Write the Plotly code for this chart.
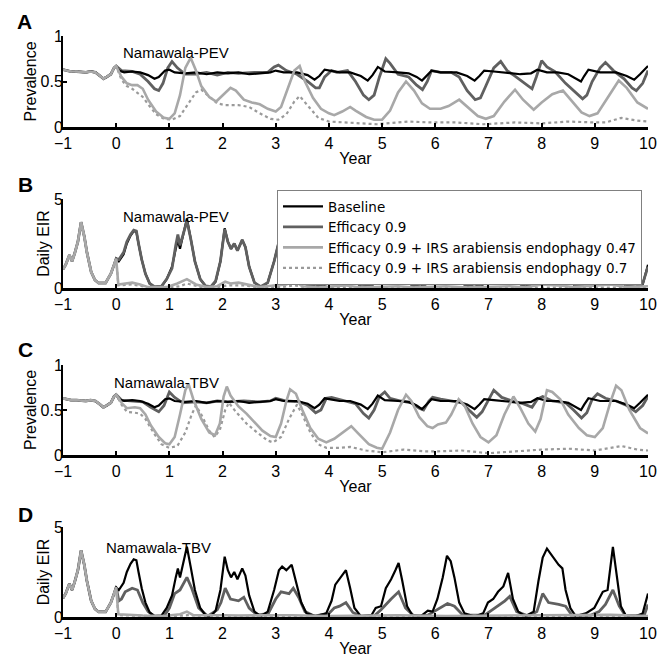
import plotly.graph_objects as go

# Page body has an 8px margin, so the figure is 8px smaller and positions are shifted
OFF = 8
W, H = 672 - OFF, 658 - OFF

# ---------------- data (year, value) ----------------
# Pre-intervention period (-1..0), identical for all scenarios
pre_prev = [(-1.0, 0.63), (-0.92, 0.62), (-0.85, 0.61), (-0.75, 0.61), (-0.65, 0.60), (-0.57, 0.60),
            (-0.48, 0.61), (-0.39, 0.60), (-0.30, 0.56), (-0.24, 0.53), (-0.18, 0.55), (-0.10, 0.58),
            (-0.04, 0.65), (0.0, 0.67)]
pre_eir = [(-1.0, 1.05), (-0.95, 1.3), (-0.88, 1.85), (-0.83, 1.5), (-0.78, 1.95), (-0.72, 2.6),
           (-0.66, 3.7), (-0.60, 2.9), (-0.55, 2.0), (-0.47, 0.9), (-0.40, 0.45), (-0.33, 0.28),
           (-0.20, 0.28), (-0.10, 0.8), (-0.04, 1.3), (0.0, 1.65)]

# Baseline prevalence (A and C)
base_prev = [(0.05, 0.62), (0.15, 0.60), (0.3, 0.61), (0.45, 0.60), (0.6, 0.57), (0.72, 0.53), (0.8, 0.55),
             (0.92, 0.62), (1.0, 0.63), (1.1, 0.60), (1.3, 0.59), (1.5, 0.60), (1.7, 0.58), (1.9, 0.60),
             (2.1, 0.59), (2.3, 0.60), (2.5, 0.58), (2.7, 0.59), (2.9, 0.60), (3.0, 0.62), (3.15, 0.60),
             (3.4, 0.60), (3.6, 0.57), (3.73, 0.52), (3.82, 0.56), (3.92, 0.63), (4.0, 0.62), (4.2, 0.60),
             (4.4, 0.60), (4.6, 0.56), (4.73, 0.51), (4.82, 0.57), (4.92, 0.66), (5.05, 0.61), (5.3, 0.60),
             (5.5, 0.59), (5.65, 0.55), (5.75, 0.51), (5.85, 0.57), (5.93, 0.62), (6.1, 0.60), (6.4, 0.60),
             (6.6, 0.56), (6.74, 0.51), (6.83, 0.56), (6.92, 0.62), (7.1, 0.61), (7.3, 0.60), (7.6, 0.58),
             (7.8, 0.59), (7.92, 0.63), (8.1, 0.60), (8.3, 0.60), (8.5, 0.58), (8.65, 0.53), (8.74, 0.50),
             (8.8, 0.56), (8.88, 0.63), (9.1, 0.60), (9.4, 0.60), (9.6, 0.56), (9.74, 0.52), (9.85, 0.58),
             (10.0, 0.67)]

# Panel A: PEV
pev_prev = [(0.1, 0.62), (0.3, 0.61), (0.45, 0.58), (0.6, 0.50), (0.72, 0.42), (0.8, 0.40), (0.88, 0.48),
            (0.97, 0.65), (1.05, 0.72), (1.15, 0.65), (1.3, 0.58), (1.5, 0.58), (1.7, 0.60), (1.9, 0.57),
            (2.1, 0.60), (2.3, 0.59), (2.6, 0.60), (2.85, 0.60), (2.97, 0.66), (3.05, 0.68), (3.2, 0.62),
            (3.4, 0.58), (3.6, 0.50), (3.75, 0.43), (3.82, 0.43), (3.92, 0.55), (4.05, 0.62), (4.15, 0.60),
            (4.35, 0.62), (4.5, 0.50), (4.65, 0.35), (4.75, 0.30), (4.85, 0.35), (4.95, 0.55), (5.07, 0.75),
            (5.15, 0.70), (5.3, 0.58), (5.5, 0.55), (5.65, 0.46), (5.76, 0.41), (5.85, 0.50), (5.93, 0.62),
            (6.1, 0.60), (6.3, 0.60), (6.45, 0.55), (6.6, 0.40), (6.75, 0.30), (6.85, 0.32), (6.95, 0.45),
            (7.1, 0.65), (7.23, 0.72), (7.35, 0.62), (7.5, 0.56), (7.7, 0.47), (7.82, 0.42), (7.9, 0.55),
            (8.0, 0.73), (8.1, 0.66), (8.25, 0.61), (8.45, 0.48), (8.6, 0.40), (8.77, 0.31), (8.85, 0.35),
            (8.95, 0.50), (9.1, 0.65), (9.2, 0.71), (9.35, 0.62), (9.55, 0.53), (9.7, 0.43), (9.78, 0.40),
            (9.9, 0.48), (10.0, 0.62)]
pev_irs47_prev = [(0.1, 0.55), (0.2, 0.48), (0.3, 0.46), (0.4, 0.46), (0.5, 0.42), (0.6, 0.30), (0.75, 0.17),
                  (0.9, 0.10), (1.0, 0.09), (1.1, 0.15), (1.2, 0.35), (1.3, 0.65), (1.4, 0.76), (1.5, 0.62),
                  (1.6, 0.45), (1.75, 0.33), (1.88, 0.28), (2.0, 0.35), (2.15, 0.43), (2.25, 0.40), (2.4, 0.30),
                  (2.55, 0.27), (2.7, 0.25), (2.85, 0.20), (3.0, 0.17), (3.1, 0.22), (3.25, 0.45), (3.35, 0.62),
                  (3.45, 0.67), (3.55, 0.50), (3.7, 0.32), (3.85, 0.20), (4.0, 0.15), (4.1, 0.13), (4.25, 0.17),
                  (4.4, 0.22), (4.5, 0.18), (4.7, 0.11), (4.85, 0.08), (5.0, 0.08), (5.15, 0.18), (5.3, 0.38),
                  (5.45, 0.50), (5.6, 0.40), (5.75, 0.26), (5.9, 0.20), (6.1, 0.20), (6.25, 0.23), (6.45, 0.30),
                  (6.6, 0.22), (6.8, 0.12), (6.95, 0.09), (7.1, 0.12), (7.3, 0.28), (7.5, 0.41), (7.65, 0.30),
                  (7.85, 0.19), (8.0, 0.27), (8.2, 0.36), (8.4, 0.40), (8.55, 0.30), (8.75, 0.16), (8.9, 0.12),
                  (9.05, 0.15), (9.25, 0.33), (9.45, 0.51), (9.6, 0.43), (9.8, 0.27), (10.0, 0.20)]
pev_irs70_prev = [(0.1, 0.52), (0.2, 0.45), (0.3, 0.42), (0.4, 0.38), (0.5, 0.33), (0.6, 0.25), (0.75, 0.14),
                  (0.9, 0.09), (1.05, 0.08), (1.2, 0.12), (1.35, 0.25), (1.5, 0.38), (1.6, 0.41), (1.75, 0.33),
                  (1.9, 0.26), (2.05, 0.24), (2.3, 0.24), (2.5, 0.22), (2.7, 0.15), (2.9, 0.09), (3.05, 0.08),
                  (3.2, 0.14), (3.35, 0.28), (3.45, 0.34), (3.6, 0.24), (3.8, 0.10), (4.0, 0.06), (4.4, 0.05),
                  (4.9, 0.03), (5.3, 0.05), (5.5, 0.06), (5.9, 0.05), (6.4, 0.05), (6.9, 0.03), (7.5, 0.05),
                  (8.0, 0.04), (8.5, 0.06), (9.0, 0.05), (9.2, 0.05), (9.5, 0.10), (9.8, 0.07), (10.0, 0.06)]

# Baseline daily EIR (B and D)
base_eir = [(0.05, 1.5), (0.1, 1.7), (0.14, 1.9), (0.2, 2.5), (0.27, 2.95), (0.33, 3.2), (0.38, 3.15),
            (0.42, 2.5), (0.48, 1.6), (0.55, 0.8), (0.63, 0.25), (0.72, 0.05), (0.85, 0.08), (0.95, 0.5),
            (1.05, 1.2), (1.12, 2.2), (1.16, 2.7), (1.2, 2.2), (1.27, 3.1), (1.33, 3.9), (1.4, 2.8),
            (1.48, 1.5), (1.58, 0.5), (1.68, 0.1), (1.78, 0.05), (1.87, 0.35), (1.96, 1.5), (2.04, 3.35),
            (2.1, 2.6), (2.16, 2.2), (2.22, 2.5), (2.28, 2.1), (2.37, 2.7), (2.43, 2.3), (2.5, 1.2),
            (2.6, 0.3), (2.72, 0.05), (2.85, 0.3), (2.97, 1.5), (3.06, 2.6), (3.12, 2.8), (3.2, 2.6),
            (3.3, 2.9), (3.38, 2.0), (3.48, 0.8), (3.58, 0.2), (3.75, 0.05), (3.95, 0.2), (4.05, 0.9),
            (4.12, 1.8), (4.22, 2.2), (4.32, 2.6), (4.4, 1.6), (4.48, 0.5), (4.6, 0.05), (4.8, 0.1),
            (4.88, 0.5), (4.98, 0.6), (5.07, 1.6), (5.17, 2.1), (5.25, 2.6), (5.31, 3.0), (5.38, 2.0),
            (5.47, 0.6), (5.57, 0.1), (5.73, 0.05), (5.86, 0.35), (5.95, 0.3), (6.04, 1.0), (6.14, 2.2),
            (6.22, 3.4), (6.29, 3.1), (6.36, 2.2), (6.45, 0.8), (6.55, 0.2), (6.74, 0.02), (6.9, 0.2),
            (6.99, 0.8), (7.09, 1.0), (7.18, 1.4), (7.28, 1.7), (7.37, 2.45), (7.46, 1.0), (7.56, 0.3),
            (7.69, 0.05), (7.85, 0.3), (7.94, 2.0), (8.02, 3.3), (8.1, 3.8), (8.2, 3.4), (8.32, 2.9),
            (8.39, 2.7), (8.45, 1.5), (8.54, 0.5), (8.64, 0.05), (8.83, 0.2), (8.99, 0.5), (9.15, 1.4),
            (9.24, 1.5), (9.34, 3.9), (9.4, 2.5), (9.49, 0.6), (9.58, 0.1), (9.77, 0.05), (9.9, 0.2),
            (10.0, 1.3)]

# Panel B: PEV
pev_eir = [(0.05, 1.6), (0.1, 1.8), (0.14, 2.0), (0.2, 2.6), (0.27, 3.0), (0.33, 3.25), (0.38, 3.2),
           (0.42, 2.5), (0.48, 1.6), (0.55, 0.8), (0.63, 0.25), (0.72, 0.08), (0.85, 0.1), (0.95, 0.5),
           (1.05, 1.1), (1.12, 2.4), (1.16, 3.0), (1.2, 2.4), (1.27, 3.2), (1.33, 3.75), (1.4, 2.8),
           (1.48, 1.5), (1.58, 0.5), (1.68, 0.12), (1.78, 0.08), (1.87, 0.4), (1.96, 1.5), (2.04, 3.3),
           (2.1, 2.6), (2.16, 2.2), (2.22, 2.5), (2.28, 2.1), (2.37, 2.7), (2.43, 2.3), (2.5, 1.2),
           (2.6, 0.3), (2.72, 0.08), (2.85, 0.3), (2.97, 1.5), (3.06, 2.6), (3.12, 2.8), (3.2, 2.6),
           (3.3, 2.9), (3.38, 2.0), (3.48, 0.8), (3.58, 0.2), (3.75, 0.06), (3.95, 0.25), (4.05, 0.9),
           (4.15, 1.8), (4.25, 2.2), (4.32, 2.5), (4.4, 1.6), (4.48, 0.5), (4.6, 0.08), (4.8, 0.1),
           (4.9, 0.5), (5.0, 0.7), (5.07, 1.6), (5.17, 2.1), (5.25, 2.6), (5.31, 2.9), (5.38, 2.0),
           (5.47, 0.6), (5.57, 0.12), (5.75, 0.06), (5.88, 0.35), (5.97, 0.35), (6.04, 1.0), (6.14, 2.2),
           (6.22, 3.3), (6.29, 3.0), (6.36, 2.2), (6.45, 0.8), (6.55, 0.2), (6.74, 0.05), (6.9, 0.25),
           (7.0, 0.8), (7.09, 1.0), (7.18, 1.4), (7.28, 1.7), (7.37, 2.4), (7.46, 1.0), (7.56, 0.3),
           (7.7, 0.06), (7.85, 0.3), (7.94, 2.0), (8.02, 3.2), (8.1, 3.7), (8.2, 3.3), (8.32, 2.9),
           (8.39, 2.6), (8.45, 1.5), (8.54, 0.5), (8.66, 0.06), (8.83, 0.25), (9.0, 0.5), (9.15, 1.4),
           (9.24, 1.5), (9.34, 3.8), (9.4, 2.5), (9.49, 0.6), (9.6, 0.1), (9.78, 0.06), (9.9, 0.25),
           (10.0, 1.2)]
pev_irs47_eir = [(0.04, 0.2), (0.15, 0.25), (0.3, 0.3), (0.45, 0.2), (0.6, 0.05), (0.95, 0.05), (1.15, 0.25),
                 (1.33, 0.5), (1.5, 0.2), (1.7, 0.05), (1.9, 0.1), (2.05, 0.35), (2.15, 0.25), (2.3, 0.3),
                 (2.45, 0.2), (2.7, 0.05), (3.0, 0.15), (3.2, 0.2), (3.35, 0.4), (3.5, 0.1), (3.8, 0.03),
                 (4.3, 0.15), (4.6, 0.03), (5.3, 0.1), (5.6, 0.03), (6.2, 0.1), (6.6, 0.03), (7.4, 0.1),
                 (7.7, 0.03), (8.0, 0.2), (8.3, 0.15), (8.6, 0.05), (9.3, 0.2), (9.6, 0.05), (10.0, 0.1)]
pev_irs70_eir = [(0.04, 0.15), (0.3, 0.2), (0.6, 0.05), (1.0, 0.03), (1.2, 0.1), (1.33, 0.25), (1.6, 0.05),
                 (1.9, 0.05), (2.1, 0.15), (2.4, 0.15), (2.7, 0.03), (3.1, 0.05), (3.35, 0.15), (3.6, 0.03),
                 (5.3, 0.04), (7.4, 0.03), (8.1, 0.05), (9.3, 0.05), (10.0, 0.02)]

# Panel C: TBV
tbv_prev = [(0.1, 0.61), (0.3, 0.60), (0.5, 0.59), (0.65, 0.53), (0.8, 0.48), (0.9, 0.55), (1.0, 0.70),
            (1.1, 0.64), (1.25, 0.58), (1.5, 0.59), (1.7, 0.58), (1.9, 0.60), (2.1, 0.59), (2.4, 0.60),
            (2.7, 0.59), (2.9, 0.60), (3.0, 0.63), (3.2, 0.60), (3.45, 0.59), (3.6, 0.55), (3.75, 0.47),
            (3.85, 0.50), (3.95, 0.63), (4.05, 0.64), (4.3, 0.60), (4.5, 0.57), (4.65, 0.46), (4.75, 0.41),
            (4.85, 0.50), (4.95, 0.65), (5.05, 0.70), (5.15, 0.63), (5.35, 0.60), (5.55, 0.58), (5.7, 0.52),
            (5.78, 0.50), (5.88, 0.60), (5.95, 0.64), (6.1, 0.62), (6.3, 0.60), (6.5, 0.58), (6.65, 0.49),
            (6.78, 0.42), (6.88, 0.48), (7.0, 0.62), (7.1, 0.72), (7.25, 0.64), (7.45, 0.60), (7.65, 0.57),
            (7.82, 0.53), (7.92, 0.62), (8.02, 0.65), (8.2, 0.60), (8.45, 0.58), (8.6, 0.50), (8.75, 0.41),
            (8.85, 0.47), (8.95, 0.62), (9.05, 0.68), (9.2, 0.63), (9.4, 0.60), (9.6, 0.55), (9.77, 0.48),
            (9.9, 0.55), (10.0, 0.65)]
tbv_irs47_prev = [(0.1, 0.58), (0.2, 0.52), (0.35, 0.53), (0.45, 0.52), (0.55, 0.45), (0.65, 0.33), (0.8, 0.20),
                  (0.92, 0.13), (1.0, 0.12), (1.1, 0.20), (1.2, 0.45), (1.3, 0.72), (1.36, 0.79), (1.45, 0.62),
                  (1.6, 0.40), (1.75, 0.25), (1.86, 0.22), (1.95, 0.35), (2.02, 0.65), (2.08, 0.76), (2.15, 0.66),
                  (2.3, 0.54), (2.45, 0.46), (2.6, 0.37), (2.75, 0.27), (2.9, 0.21), (3.0, 0.20), (3.1, 0.35),
                  (3.2, 0.60), (3.27, 0.73), (3.38, 0.68), (3.5, 0.50), (3.65, 0.30), (3.8, 0.18), (3.95, 0.14),
                  (4.1, 0.18), (4.25, 0.25), (4.42, 0.32), (4.55, 0.24), (4.75, 0.12), (4.9, 0.08), (5.0, 0.07),
                  (5.15, 0.25), (5.3, 0.50), (5.45, 0.67), (5.55, 0.60), (5.7, 0.42), (5.85, 0.32), (5.95, 0.30),
                  (6.05, 0.34), (6.2, 0.36), (6.3, 0.45), (6.44, 0.62), (6.55, 0.55), (6.7, 0.35), (6.85, 0.20),
                  (7.0, 0.14), (7.15, 0.22), (7.3, 0.45), (7.47, 0.65), (7.6, 0.52), (7.75, 0.35), (7.88, 0.26),
                  (7.98, 0.40), (8.1, 0.72), (8.2, 0.70), (8.35, 0.62), (8.5, 0.45), (8.7, 0.30), (8.85, 0.22),
                  (9.0, 0.20), (9.15, 0.30), (9.3, 0.60), (9.4, 0.77), (9.5, 0.72), (9.65, 0.50), (9.85, 0.30),
                  (10.0, 0.24)]
tbv_irs70_prev = [(0.1, 0.56), (0.2, 0.48), (0.35, 0.47), (0.45, 0.46), (0.55, 0.40), (0.7, 0.25), (0.85, 0.12),
                  (1.0, 0.08), (1.15, 0.10), (1.3, 0.25), (1.42, 0.45), (1.5, 0.55), (1.6, 0.45), (1.75, 0.27),
                  (1.85, 0.20), (1.95, 0.28), (2.05, 0.50), (2.12, 0.58), (2.25, 0.48), (2.45, 0.35), (2.65, 0.25),
                  (2.85, 0.16), (2.95, 0.14), (3.1, 0.20), (3.25, 0.40), (3.4, 0.56), (3.5, 0.45), (3.65, 0.25),
                  (3.8, 0.12), (3.95, 0.08), (4.2, 0.08), (4.4, 0.09), (4.7, 0.05), (5.0, 0.03), (5.4, 0.06),
                  (5.8, 0.04), (6.0, 0.04), (6.5, 0.05), (7.0, 0.02), (7.5, 0.04), (8.0, 0.06), (8.5, 0.07),
                  (9.0, 0.05), (9.5, 0.10), (9.8, 0.06), (10.0, 0.05)]

# Panel D: TBV
tbv_eir = [(0.05, 0.9), (0.1, 1.0), (0.17, 1.4), (0.3, 1.6), (0.4, 1.5), (0.5, 0.8), (0.6, 0.3), (0.72, 0.05),
           (0.9, 0.05), (1.0, 0.5), (1.1, 1.3), (1.2, 1.5), (1.33, 2.2), (1.42, 1.6), (1.55, 0.5), (1.72, 0.05),
           (1.9, 0.4), (1.97, 0.8), (2.05, 1.6), (2.15, 1.0), (2.3, 0.9), (2.4, 1.1), (2.5, 0.5), (2.66, 0.1),
           (2.86, 0.2), (3.0, 1.0), (3.1, 1.4), (3.25, 1.3), (3.33, 1.6), (3.43, 1.1), (3.55, 0.3), (3.72, 0.05),
           (4.0, 0.2), (4.1, 0.5), (4.2, 0.6), (4.32, 0.8), (4.45, 0.25), (4.6, 0.05), (4.85, 0.05), (4.98, 0.4),
           (5.17, 1.0), (5.31, 1.4), (5.44, 0.5), (5.6, 0.05), (5.86, 0.1), (6.04, 0.4), (6.23, 0.75),
           (6.36, 0.6), (6.52, 0.1), (6.93, 0.1), (7.12, 0.5), (7.31, 0.9), (7.4, 1.15), (7.53, 0.3),
           (7.75, 0.05), (7.91, 0.3), (8.02, 1.3), (8.13, 0.8), (8.32, 0.7), (8.45, 0.6), (8.57, 0.1),
           (8.89, 0.05), (9.08, 0.3), (9.2, 0.7), (9.34, 1.5), (9.46, 0.6), (9.58, 0.05), (9.93, 0.1),
           (10.0, 0.7)]
tbv_irs47_eir = [(0.04, 0.15), (0.3, 0.1), (0.5, 0.08), (0.9, 0.05), (1.2, 0.15), (1.33, 0.3), (1.45, 0.1),
                 (2.0, 0.1), (2.3, 0.08), (3.0, 0.1), (3.3, 0.1), (4.0, 0.05), (5.3, 0.1), (6.2, 0.05),
                 (7.4, 0.1), (8.0, 0.1), (9.3, 0.12), (10.0, 0.05)]
tbv_irs70_eir = [(0.04, 0.1), (1.0, 0.03), (1.35, 0.1), (2.0, 0.03), (3.3, 0.04), (5.0, 0.02), (8.0, 0.03),
                 (10.0, 0.02)]

series_names = ["Baseline", "Efficacy 0.9",
                "Efficacy 0.9 + IRS arabiensis endophagy 0.47",
                "Efficacy 0.9 + IRS arabiensis endophagy 0.7"]

# ---------------- styling ----------------
FONT = "Liberation Sans, Arial, sans-serif"
styles = [
    dict(color="#000000", width=2.2, dash="solid"),
    dict(color="#606060", width=2.8, dash="solid"),
    dict(color="#a8a8a8", width=2.6, dash="solid"),
    dict(color="#9a9a9a", width=2.2, dash="dot"),
]

L, R = 63, 648  # plot-area left/right in reference pixels
panels_px = [(36, 127), (199, 288), (365, 455), (527, 617)]


def px_x(px):
    return (px - OFF) / W


def px_y(py):
    return 1 - (py - OFF) / H


def join(pre, post):
    pts = pre + post
    return [p[0] for p in pts], [p[1] for p in pts]


# (kind, series data, drawing order)
panels = [
    ("prev", [base_prev, pev_prev, pev_irs47_prev, pev_irs70_prev], [1, 0, 3, 2]),
    ("eir", [base_eir, pev_eir, pev_irs47_eir, pev_irs70_eir], [0, 1, 3, 2]),
    ("prev", [base_prev, tbv_prev, tbv_irs47_prev, tbv_irs70_prev], [1, 0, 3, 2]),
    ("eir", [base_eir, tbv_eir, tbv_irs47_eir, tbv_irs70_eir], [1, 0, 3, 2]),
]

fig = go.Figure()
layout = {}
for i, (kind, data, order) in enumerate(panels):
    n = i + 1
    xa = "x" if n == 1 else f"x{n}"
    ya = "y" if n == 1 else f"y{n}"
    pre = pre_prev if kind == "prev" else pre_eir
    for k in order:
        xs, ys = join(pre, data[k])
        st = styles[k]
        fig.add_trace(go.Scatter(
            x=xs, y=ys, mode="lines", name=series_names[k],
            line=dict(color=st["color"], width=st["width"], dash=st["dash"]),
            xaxis=xa, yaxis=ya, showlegend=(n == 2), legendrank=k + 1,
            hoverinfo="skip"))
    top, bot = panels_px[i]
    axis_common = dict(showline=True, linecolor="black", ticks="inside", tickcolor="black",
                       showgrid=False, zeroline=False, automargin=False,
                       tickfont=dict(family=FONT, size=16, color="black"))
    layout["xaxis" if n == 1 else f"xaxis{n}"] = dict(
        axis_common, domain=[px_x(L), px_x(R)], anchor=ya, range=[-1, 10],
        tickvals=list(range(-1, 11)), ticklen=4, tickwidth=2, linewidth=2.5,
        title=dict(text="Year", font=dict(family=FONT, size=16, color="black"), standoff=2))
    if kind == "prev":
        yt = dict(range=[0, 1], tickvals=[0, 0.5, 1], ticktext=["0", "0.5", "1"], title_text="Prevalence")
    else:
        yt = dict(range=[0, 5], tickvals=[0, 5], ticktext=["0", "5"], title_text="Daily EIR")
    layout["yaxis" if n == 1 else f"yaxis{n}"] = dict(
        axis_common, domain=[px_y(bot), px_y(top)], anchor=xa, ticklen=4, tickwidth=2, linewidth=2,
        range=yt["range"], tickvals=yt["tickvals"], ticktext=yt["ticktext"], ticklabelstandoff=-5,
        title=dict(text=yt["title_text"], font=dict(family=FONT, size=16, color="black"), standoff=0))

fig.update_layout(**layout)

annots = []
for lab, (px, py) in zip("ABCD", [(24, 22), (25, 184), (25, 349), (25, 514)]):
    annots.append(dict(text=f"<b>{lab}</b>", x=px_x(px), y=px_y(py), xref="paper", yref="paper",
                       showarrow=False, xanchor="center", yanchor="middle",
                       font=dict(family=FONT, size=21, color="black")))
for txt, (px, py) in zip(["Namawala-PEV", "Namawala-PEV", "Namawala-TBV", "Namawala-TBV"],
                         [(176, 52), (176, 216), (166, 383), (158, 547)]):
    annots.append(dict(text=txt, x=px_x(px), y=px_y(py), xref="paper", yref="paper",
                       showarrow=False, xanchor="center", yanchor="middle",
                       font=dict(family=FONT, size=15, color="black")))

fig.update_layout(
    width=W, height=H, margin=dict(l=0, r=0, t=0, b=0),
    paper_bgcolor="white", plot_bgcolor="white",
    annotations=annots,
    legend=dict(x=px_x(277), y=px_y(190), xref="paper", yref="paper", xanchor="left", yanchor="top",
                bgcolor="white", bordercolor="#808080", borderwidth=1, traceorder="normal",
                font=dict(family="DejaVu Sans, Liberation Sans, Arial", size=13.5, color="black"),
                tracegroupgap=0, itemwidth=40),
    showlegend=True,
)

fig.write_html("out.html")
